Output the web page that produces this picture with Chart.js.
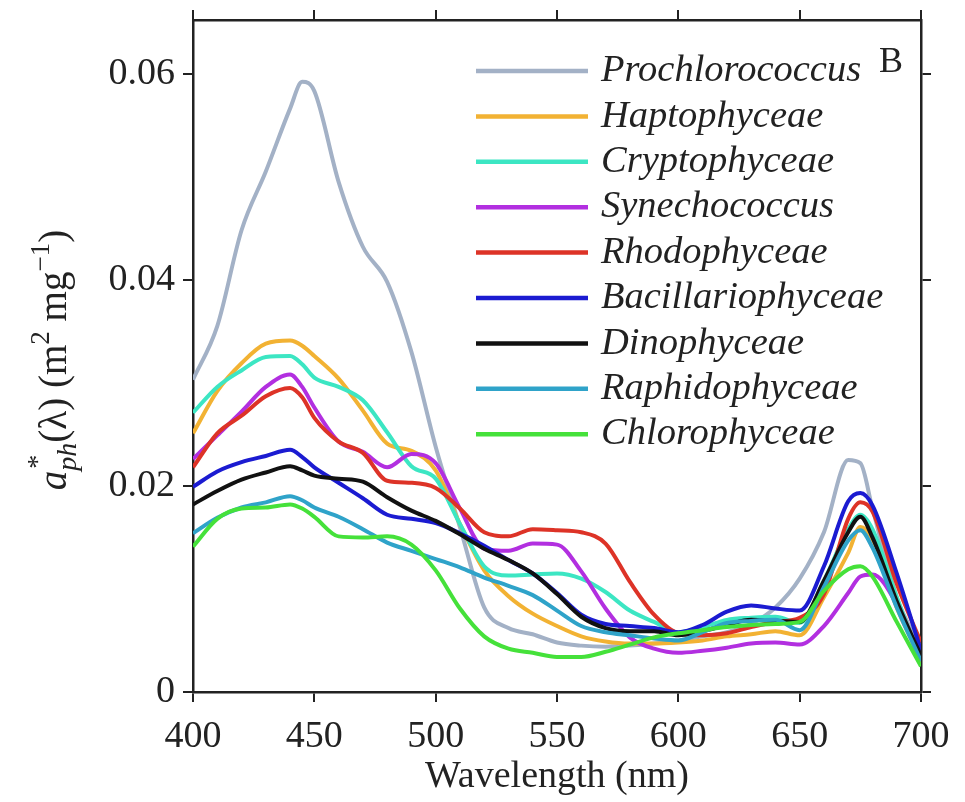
<!DOCTYPE html>
<html>
<head>
<meta charset="utf-8">
<script src="https://cdn.jsdelivr.net/npm/chart.js@4.4.1/dist/chart.umd.min.js"></script>
<style>
  html, body { margin: 0; padding: 0; background: #fff; }
  #chart { display: block; }
</style>
</head>
<body>
<canvas id="chart" width="965" height="802"></canvas>
<script>
// wavelength grid (nm)
const wavelengths = [400, 410, 420, 430, 440, 445, 450, 460, 470, 480, 490, 500, 510, 520, 530, 540, 550,
                     560, 570, 580, 590, 600, 610, 620, 630, 640, 650, 660, 670, 675, 680, 690, 700];

// a*ph(lambda), m2 mg-1
const prochlorococcus   = [0.0303, 0.0355, 0.0448, 0.0505, 0.0566, 0.0592, 0.0583, 0.0495, 0.0432, 0.0398, 0.0330,
                           0.0238, 0.0160, 0.0082, 0.0062, 0.0056, 0.0048, 0.0045, 0.0044, 0.0045, 0.0047, 0.0050,
                           0.0054, 0.0058, 0.0066, 0.0082, 0.0110, 0.0155, 0.0225, 0.0222, 0.0178, 0.0092, 0.0042];
const haptophyceae      = [0.0251, 0.0292, 0.0319, 0.0338, 0.0341, 0.0336, 0.0326, 0.0304, 0.0273, 0.0241, 0.0234,
                           0.0215, 0.0163, 0.0118, 0.0093, 0.0076, 0.0064, 0.0054, 0.0049, 0.0047, 0.0047, 0.0048,
                           0.0050, 0.0054, 0.0056, 0.0059, 0.0055, 0.0092, 0.0135, 0.0160, 0.0148, 0.0082, 0.0032];
const cryptophyceae     = [0.0271, 0.0296, 0.0312, 0.0325, 0.0326, 0.0318, 0.0305, 0.0296, 0.0283, 0.0252, 0.0219,
                           0.0207, 0.0163, 0.0122, 0.0113, 0.0114, 0.0115, 0.0110, 0.0097, 0.0079, 0.0068, 0.0058,
                           0.0063, 0.0070, 0.0072, 0.0073, 0.0067, 0.0108, 0.0158, 0.0172, 0.0158, 0.0092, 0.0027];
const synechococcus     = [0.0226, 0.0249, 0.0272, 0.0296, 0.0308, 0.0296, 0.0276, 0.0243, 0.0233, 0.0218, 0.0231,
                           0.0222, 0.0178, 0.0139, 0.0137, 0.0144, 0.0143, 0.0117, 0.0081, 0.0053, 0.0042, 0.0038,
                           0.0040, 0.0043, 0.0047, 0.0048, 0.0046, 0.0064, 0.0096, 0.0112, 0.0114, 0.0085, 0.0028];
const rhodophyceae      = [0.0218, 0.0251, 0.0268, 0.0287, 0.0295, 0.0286, 0.0266, 0.0243, 0.0232, 0.0205, 0.0203,
                           0.0198, 0.0178, 0.0155, 0.0151, 0.0158, 0.0157, 0.0155, 0.0144, 0.0107, 0.0075, 0.0057,
                           0.0055, 0.0057, 0.0063, 0.0068, 0.0072, 0.0095, 0.0168, 0.0184, 0.0175, 0.0105, 0.0048];
const bacillariophyceae = [0.0199, 0.0214, 0.0223, 0.0229, 0.0235, 0.0228, 0.0218, 0.0203, 0.0188, 0.0172, 0.0168,
                           0.0164, 0.0154, 0.0142, 0.0128, 0.0115, 0.0096, 0.0075, 0.0066, 0.0064, 0.0062, 0.0058,
                           0.0065, 0.0078, 0.0084, 0.0081, 0.0079, 0.0122, 0.0185, 0.0193, 0.0181, 0.0115, 0.0040];
const dinophyceae       = [0.0182, 0.0195, 0.0206, 0.0213, 0.0219, 0.0215, 0.0210, 0.0207, 0.0204, 0.0189, 0.0176,
                           0.0166, 0.0153, 0.0139, 0.0128, 0.0115, 0.0095, 0.0073, 0.0062, 0.0059, 0.0059, 0.0055,
                           0.0059, 0.0065, 0.0070, 0.0069, 0.0068, 0.0108, 0.0155, 0.0170, 0.0150, 0.0088, 0.0035];
const raphidophyceae    = [0.0154, 0.0169, 0.0179, 0.0184, 0.0190, 0.0186, 0.0179, 0.0170, 0.0158, 0.0145, 0.0137,
                           0.0129, 0.0121, 0.0111, 0.0103, 0.0094, 0.0079, 0.0064, 0.0058, 0.0055, 0.0052, 0.0050,
                           0.0058, 0.0067, 0.0069, 0.0070, 0.0060, 0.0102, 0.0147, 0.0157, 0.0140, 0.0082, 0.0030];
const chlorophyceae     = [0.0141, 0.0168, 0.0178, 0.0179, 0.0182, 0.0178, 0.0170, 0.0151, 0.0150, 0.0151, 0.0143,
                           0.0118, 0.0081, 0.0054, 0.0042, 0.0038, 0.0034, 0.0034, 0.0039, 0.0046, 0.0053, 0.0057,
                           0.0060, 0.0063, 0.0065, 0.0066, 0.0068, 0.0098, 0.0119, 0.0122, 0.0112, 0.0068, 0.0025];

const seriesNames = ['Prochlorococcus', 'Haptophyceae', 'Cryptophyceae', 'Synechococcus', 'Rhodophyceae',
                     'Bacillariophyceae', 'Dinophyceae', 'Raphidophyceae', 'Chlorophyceae'];
const seriesValues = [prochlorococcus, haptophyceae, cryptophyceae, synechococcus, rhodophyceae,
                      bacillariophyceae, dinophyceae, raphidophyceae, chlorophyceae];
const seriesColors = ['#a3b1c6', '#f2b233', '#3ce6c3', '#b22fe0', '#dd3327',
                      '#1b1bd1', '#111111', '#2fa3c9', '#45e13a'];

const xTicks = [400, 450, 500, 550, 600, 650, 700];
const yTicks = [0, 0.02, 0.04, 0.06];
const yTickLabels = ['0', '0.02', '0.04', '0.06'];
const panelLetter = 'B';

const SERIF = '"Liberation Serif", "Times New Roman", serif';
const INK = '#222';

const datasets = seriesNames.map((name, i) => ({
    label: name,
    data: wavelengths.map((w, j) => ({x: w, y: seriesValues[i][j]})),
    borderColor: seriesColors[i],
    borderWidth: 4,
    pointRadius: 0,
    cubicInterpolationMode: 'monotone',
    fill: false
}));
// draw grey first so the others sit on top like in the figure
datasets.forEach((d, i) => { d.order = -i; });

const frameGrid = {drawOnChartArea: false, drawTicks: true, tickLength: 10, color: INK, lineWidth: 2};
const frameBorder = {display: true, color: INK, width: 2.5};
const setTicks = values => scale => { scale.ticks = values.map(v => ({value: v})); };
// fixed box sizes, and no extra room reserved for half tick labels
const fixHeight = h => s => { s.height = h; s.paddingLeft = 0; s.paddingRight = 0; };
const fixWidth = w => s => { s.width = w; s.paddingTop = 0; s.paddingBottom = 0; };

// legend, panel letter and the y title with sub/superscripts
const annotations = {
    id: 'annotations',
    afterDraw(chart) {
        const ctx = chart.ctx;
        ctx.save();

        // legend inside the plot
        ctx.textBaseline = 'middle';
        ctx.textAlign = 'left';
        ctx.font = 'italic 38.5px ' + SERIF;
        chart.data.datasets.forEach((d, i) => {
            const y = 71 + 45.4 * i;
            ctx.strokeStyle = d.borderColor;
            ctx.lineWidth = 4.5;
            ctx.beginPath();
            ctx.moveTo(476, y);
            ctx.lineTo(588, y);
            ctx.stroke();
            ctx.fillStyle = INK;
            ctx.fillText(d.label, 601, y);
        });

        ctx.font = '36px ' + SERIF;
        ctx.textBaseline = 'alphabetic';
        ctx.fillText(panelLetter, 879, 72);

        // y axis title, rotated
        const parts = [
            {t: 'a', f: 'italic 39px ' + SERIF, dy: 0},
            {t: 'ph', f: 'italic 28px ' + SERIF, dy: 10, star: true},
            {t: '(λ) (m', f: '39px ' + SERIF, dy: 0},
            {t: '2', f: '27px ' + SERIF, dy: -17},
            {t: ' mg', f: '39px ' + SERIF, dy: 0},
            {t: '−1', f: '27px ' + SERIF, dy: -17},
            {t: ')', f: '39px ' + SERIF, dy: 0}
        ];
        let total = 0;
        parts.forEach(p => { ctx.font = p.f; p.w = ctx.measureText(p.t).width; total += p.w; });
        ctx.translate(66, 360);
        ctx.rotate(-Math.PI / 2);
        let x = -total / 2;
        parts.forEach(p => {
            ctx.font = p.f;
            ctx.fillText(p.t, x, p.dy);
            if (p.star) {
                ctx.font = '28px ' + SERIF;
                ctx.fillText('*', x + 2, -20);
            }
            x += p.w;
        });
        ctx.restore();
    }
};

new Chart(document.getElementById('chart'), {
    type: 'line',
    data: {datasets: datasets},
    options: {
        responsive: false,
        animation: false,
        layout: {padding: 0},
        plugins: {legend: {display: false}, tooltip: {enabled: false}},
        scales: {
            x: {
                type: 'linear', position: 'bottom', min: 400, max: 700,
                afterBuildTicks: setTicks(xTicks),
                afterFit: fixHeight(110),
                ticks: {font: {family: SERIF, size: 38}, color: INK, padding: 12, maxRotation: 0},
                grid: frameGrid, border: frameBorder,
                title: {display: true, text: 'Wavelength (nm)', font: {family: SERIF, size: 38}, color: INK,
                        padding: {top: 0, bottom: 2}}
            },
            x2: {
                type: 'linear', position: 'top', min: 400, max: 700,
                afterBuildTicks: setTicks(xTicks),
                afterFit: fixHeight(20),
                ticks: {display: false},
                grid: frameGrid, border: frameBorder
            },
            y: {
                type: 'linear', position: 'left', min: 0, max: 0.0652,
                afterBuildTicks: setTicks(yTicks),
                afterFit: fixWidth(193),
                ticks: {font: {family: SERIF, size: 38}, color: INK, padding: 8,
                        callback: (v, i) => yTickLabels[i]},
                grid: frameGrid, border: frameBorder
            },
            y2: {
                type: 'linear', position: 'right', min: 0, max: 0.0652,
                afterBuildTicks: setTicks(yTicks),
                afterFit: fixWidth(44),
                ticks: {display: false},
                grid: frameGrid, border: frameBorder
            }
        }
    },
    plugins: [annotations]
});
</script>
</body>
</html>
